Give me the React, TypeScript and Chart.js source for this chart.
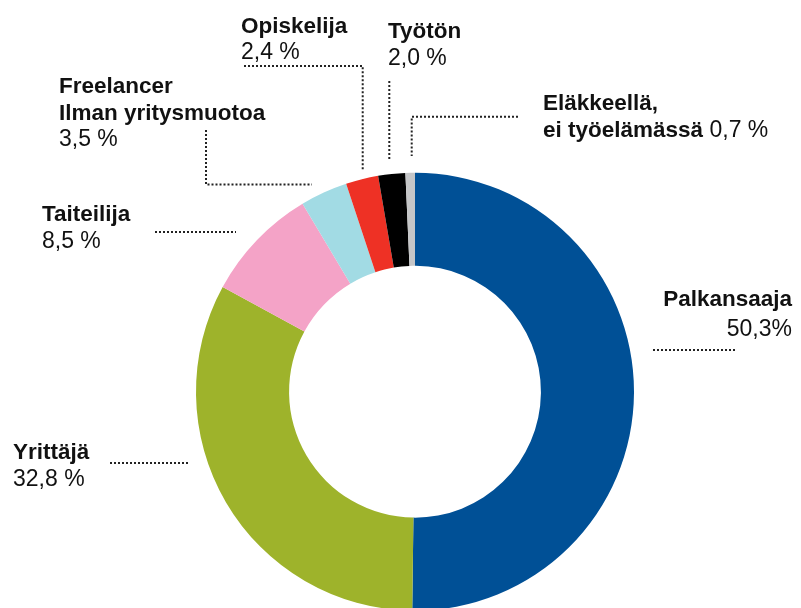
import React, { useEffect, useRef } from "react";
import { Chart, registerables } from "chart.js";

Chart.register(...registerables);

const categories = [
  "Palkansaaja",
  "Yrittäjä",
  "Taiteilija",
  "Freelancer Ilman yritysmuotoa",
  "Opiskelija",
  "Työtön",
  "Eläkkeellä, ei työelämässä",
];
const values = [50.3, 32.8, 8.5, 3.5, 2.4, 2.0, 0.7];
const colors = ["#005096", "#9eb32b", "#f4a3c7", "#a2dbe4", "#ee3125", "#000000", "#c5c6c8"];
const percentSuffix = ["%", " %", " %", " %", " %", " %", " %"];

// label title lines (bold) per category
const titleLines: string[][] = [
  ["Palkansaaja"],
  ["Yrittäjä"],
  ["Taiteilija"],
  ["Freelancer", "Ilman yritysmuotoa"],
  ["Opiskelija"],
  ["Työtön"],
  ["Eläkkeellä,", "ei työelämässä"],
];

const FONT = '"Liberation Sans", Arial, Helvetica, sans-serif';
const FSB = 22.5;
const FSR = 23;

// layout of annotations (positions, not data)
type Ann = {
  x: number;
  y: number; // baseline of first line
  lh: number;
  align: "left" | "right";
  inline?: boolean; // value on same line as last title line
  leader: number[][];
};
const annLayout: Ann[] = [
  { x: 792, y: 306, lh: 30, align: "right", leader: [[653, 350], [735, 350]] },
  { x: 13, y: 459, lh: 27, align: "left", leader: [[110, 463], [190, 463]] },
  { x: 42, y: 221, lh: 27, align: "left", leader: [[155, 232], [236, 232]] },
  { x: 59, y: 93, lh: 26.5, align: "left", leader: [[206, 130], [206, 184.5], [312, 184.5]] },
  { x: 241, y: 33, lh: 26, align: "left", leader: [[244, 66], [362.7, 66], [362.7, 171]] },
  { x: 388, y: 38, lh: 26.7, align: "left", leader: [[389.3, 81], [389.3, 160]] },
  { x: 543, y: 110, lh: 26.7, align: "left", inline: true, leader: [[518, 116.7], [411.7, 116.7], [411.7, 156]] },
];

function fmt(i: number) {
  return values[i].toFixed(1).replace(".", ",") + percentSuffix[i];
}

const labelPlugin = {
  id: "labels",
  afterDraw(chart: any) {
    const ctx: CanvasRenderingContext2D = chart.ctx;
    ctx.save();
    categories.forEach((_, i) => {
      const a = annLayout[i];
      const lines = titleLines[i];
      ctx.fillStyle = "#111";
      ctx.textBaseline = "alphabetic";
      ctx.textAlign = a.align;
      let y = a.y;
      lines.forEach((ln, k) => {
        ctx.font = `bold ${FSB}px ${FONT}`;
        ctx.textAlign = a.align;
        ctx.fillText(ln, a.x, y);
        if (a.inline && k === lines.length - 1) {
          const w = ctx.measureText(ln).width;
          ctx.font = `${FSR}px ${FONT}`;
          ctx.textAlign = "left";
          ctx.fillText(" " + fmt(i), a.x + w, y);
        }
        y += a.lh;
      });
      if (!a.inline) {
        ctx.font = `${FSR}px ${FONT}`;
        ctx.textAlign = a.align;
        ctx.fillText(fmt(i), a.x, y);
      }
      // leader
      ctx.strokeStyle = "#222";
      ctx.lineWidth = 2;
      ctx.setLineDash([2, 2]);
      ctx.beginPath();
      a.leader.forEach((p, k) => {
        if (k === 0) ctx.moveTo(p[0], p[1]);
        else ctx.lineTo(p[0], p[1]);
      });
      ctx.stroke();
      ctx.setLineDash([]);
    });
    ctx.restore();
  },
};

export default function App() {
  const ref = useRef<HTMLCanvasElement>(null);
  useEffect(() => {
    if (!ref.current) return;
    const chart = new Chart(ref.current, {
      type: "doughnut",
      data: {
        labels: categories,
        datasets: [
          {
            data: values,
            backgroundColor: colors,
            borderWidth: 0,
            hoverOffset: 0,
          },
        ],
      },
      options: {
        responsive: false,
        animation: false,
        cutout: "57.5%",
        layout: { padding: { left: 196, right: 167, top: 172.7, bottom: 29.3 } },
        plugins: {
          legend: { display: false },
          tooltip: { enabled: false },
        },
        events: [],
      },
      plugins: [labelPlugin],
    });
    return () => chart.destroy();
  }, []);
  return (
    <div
      style={{
        position: "fixed",
        left: 0,
        top: 0,
        width: 801,
        height: 608,
        overflow: "hidden",
        background: "#fff",
      }}
    >
      <canvas ref={ref} width={801} height={640} style={{ display: "block" }} />
    </div>
  );
}
